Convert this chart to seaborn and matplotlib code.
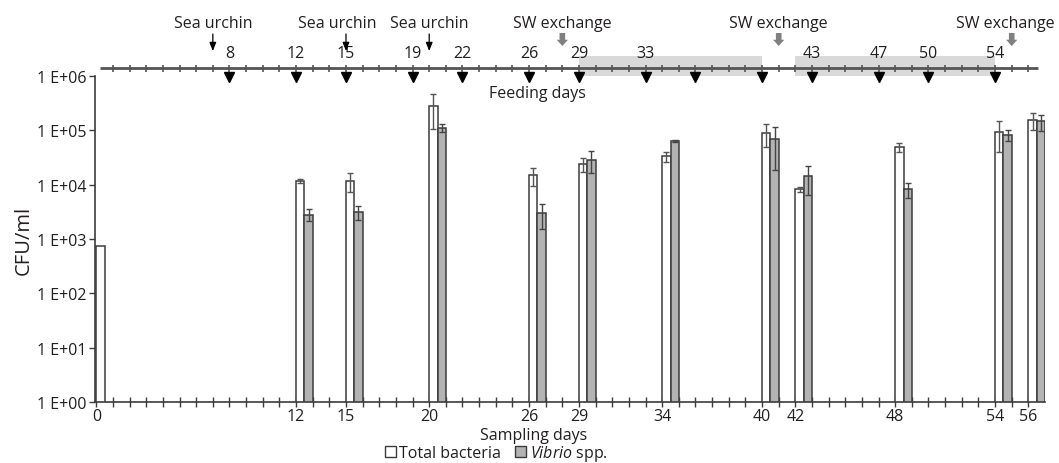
import numpy as np
import pandas as pd
import matplotlib
matplotlib.use("Agg")
import matplotlib.pyplot as plt
import seaborn as sns
from matplotlib.patches import Patch, Rectangle
from matplotlib.ticker import NullLocator

# ---------------- data ----------------
days = [0, 12, 15, 20, 26, 29, 34, 40, 42, 48, 54, 56]
total = [750, 1.19e4, 1.19e4, 2.86e5, 1.5e4, 2.4e4, 3.3e4, 9.1e4, 8.3e3, 4.9e4, 9.5e4, 1.56e5]
total_err = [0, 1.0e3, 4.6e3, 1.8e5, 5.5e3, 7.0e3, 7.0e3, 4.1e4, 9.0e2, 9.0e3, 5.5e4, 5.5e4]
vibrio = [np.nan, 2.8e3, 3.1e3, 1.12e5, 3.0e3, 2.86e4, 6.4e4, 6.8e4, 1.44e4, 8.3e3, 8.3e4, 1.47e5]
vibrio_err = [np.nan, 7.0e2, 9.0e2, 1.8e4, 1.5e3, 1.25e4, 2.5e3, 4.9e4, 8.0e3, 2.6e3, 2.0e4, 4.8e4]
series_names = ["Total bacteria", "Vibrio spp."]
legend_labels = ["Total bacteria", r"$\it{Vibrio}$ spp."]

feeding_days = [8, 12, 15, 19, 22, 26, 29, 33, 36, 40, 43, 47, 50, 54]
timeline_labels = [8, 12, 15, 19, 22, 26, 29, 33, 43, 47, 50, 54]
sea_urchin_days = [7, 15, 20]
sea_urchin_text_pos = [7, 14.5, 20]
sw_exchange_days = [28, 41, 55]
sw_exchange_text_pos = [28, 41, 54.6]
shaded_periods = [(29, 40), (42, 54)]
y_ticks = [1e0, 1e1, 1e2, 1e3, 1e4, 1e5, 1e6]
y_ticklabels = ["1 E+00", "1 E+01", "1 E+02", "1 E+03", "1 E+04", "1 E+05", "1 E+06"]

# ---------------- style ----------------
sns.set_theme(style="white")
plt.rcParams["font.family"] = ["Open Sans", "DejaVu Sans"]
plt.rcParams["mathtext.fontset"] = "custom"
plt.rcParams["mathtext.rm"] = "Open Sans"
plt.rcParams["mathtext.it"] = "Open Sans:italic"
TXT = "#231f20"
AXC = "#3c3c3c"
FS = 11.5

W, H = 1059, 464
fig = plt.figure(figsize=(W / 100, H / 100), dpi=100)


def px_axes(x0, y0, x1, y1):
    return fig.add_axes([x0 / W, 1 - y1 / H, (x1 - x0) / W, (y1 - y0) / H])


XLIM = (-0.08, 57.0)

# ---------------- main bar axes ----------------
ax = px_axes(95, 77, 1045, 403)
ax.set_yscale("log")

df = pd.DataFrame({
    "day": days * 2,
    "value": total + vibrio,
    "series": [series_names[0]] * len(days) + [series_names[1]] * len(days),
})
df["pos"] = df["day"] + 0.5

sns.barplot(data=df, x="pos", y="value", hue="series", hue_order=series_names,
            native_scale=True, width=0.5, dodge=True,
            palette={series_names[0]: "white", series_names[1]: "#b3b3b3"},
            edgecolor=AXC, linewidth=1.1, saturation=1, errorbar=None,
            legend=False, ax=ax)

d = np.array(days, dtype=float)
t = np.array(total); te = np.array(total_err)
v = np.array(vibrio); ve = np.array(vibrio_err)
m = te > 0
ax.errorbar(d[m] + 0.25, t[m], yerr=te[m], fmt="none", ecolor="#555555",
            elinewidth=1.0, capsize=2.5, capthick=1.0, zorder=5)
m = ~np.isnan(v)
ax.errorbar(d[m] + 0.75, v[m], yerr=ve[m], fmt="none", ecolor="#444444",
            elinewidth=1.0, capsize=2.5, capthick=1.0, zorder=5)

ax.set_xlim(*XLIM)
ax.set_ylim(1, 1e6)
ax.set_yticks(y_ticks)
ax.set_yticklabels(y_ticklabels)
ax.yaxis.set_minor_locator(NullLocator())
all_days = list(range(0, 57))
ax.set_xticks(all_days)
ax.set_xticklabels([str(x) if x in days else "" for x in all_days])
ax.xaxis.set_minor_locator(NullLocator())
for s in ["top", "right"]:
    ax.spines[s].set_visible(False)
for s in ["left", "bottom"]:
    ax.spines[s].set_color(AXC)
    ax.spines[s].set_linewidth(1.2)
ax.tick_params(axis="y", direction="out", length=4, width=1, color=AXC,
               labelsize=FS, labelcolor=TXT, pad=2, left=True)
ax.tick_params(axis="x", direction="inout", length=7, width=1, color=AXC,
               labelsize=FS, labelcolor=TXT, pad=1, bottom=True)
ax.set_xlabel("")
ax.set_ylabel("CFU/ml", fontsize=14.5, color=TXT)
ax.yaxis.set_label_coords(-0.064, 0.5)

fig.text(534 / W, 1 - 436 / H, "Sampling days", ha="center", va="center",
         fontsize=FS, color=TXT)

handles = [Patch(facecolor="white", edgecolor=AXC, linewidth=1.0),
           Patch(facecolor="#b3b3b3", edgecolor=AXC, linewidth=1.0)]
fig.legend(handles=handles, labels=legend_labels, loc="center",
           bbox_to_anchor=(496 / W, 1 - 454 / H), ncol=2, frameon=False,
           handlelength=0.7, handleheight=0.7, handletextpad=0.2,
           columnspacing=0.9, fontsize=FS, labelcolor=TXT,
           borderpad=0, borderaxespad=0)

# ---------------- top timeline axes ----------------
axt = px_axes(95, 0, 1045, 100)
axt.set_xlim(*XLIM)
axt.set_ylim(100, 0)
axt.axis("off")
axt.patch.set_alpha(0)

for a, b in shaded_periods:
    axt.add_patch(Rectangle((a, 57), b - a, 20, facecolor="#d9d9d9",
                            edgecolor="none", zorder=1))
axt.plot([0.2, 56.6], [69, 69], color="#555555", lw=2, zorder=2,
         solid_capstyle="butt")
axt.vlines(range(1, 57), 65.5, 72.5, color="#555555", lw=1.2, zorder=2)
axt.plot(feeding_days, [77.5] * len(feeding_days), "v", color="black",
         ms=7.5, zorder=3, clip_on=False)
for x in timeline_labels:
    axt.text(x, 54, str(x), ha="center", va="center", fontsize=FS, color=TXT)

for x_arrow, x_text in zip(sea_urchin_days, sea_urchin_text_pos):
    axt.text(x_text, 24, "Sea urchin", ha="center", va="center",
             fontsize=FS, color=TXT)
    axt.annotate("", xy=(x_arrow, 52), xytext=(x_arrow, 35),
                 arrowprops=dict(arrowstyle="-|>,head_length=0.5,head_width=0.2",
                                 color="black", lw=0.9, shrinkA=0, shrinkB=0,
                                 mutation_scale=10))
for x_arrow, x_text in zip(sw_exchange_days, sw_exchange_text_pos):
    axt.text(x_text, 24, "SW exchange", ha="center", va="center",
             fontsize=FS, color=TXT)
    axt.annotate("", xy=(x_arrow, 47), xytext=(x_arrow, 34),
                 arrowprops=dict(arrowstyle="simple,head_length=0.5,head_width=0.9,tail_width=0.45",
                                 facecolor="#808080", edgecolor="none",
                                 shrinkA=0, shrinkB=0, mutation_scale=9))
axt.text(26.5, 94, "Feeding days", ha="center", va="center", fontsize=FS,
         color=TXT)

fig.savefig("out.png", dpi=100)
